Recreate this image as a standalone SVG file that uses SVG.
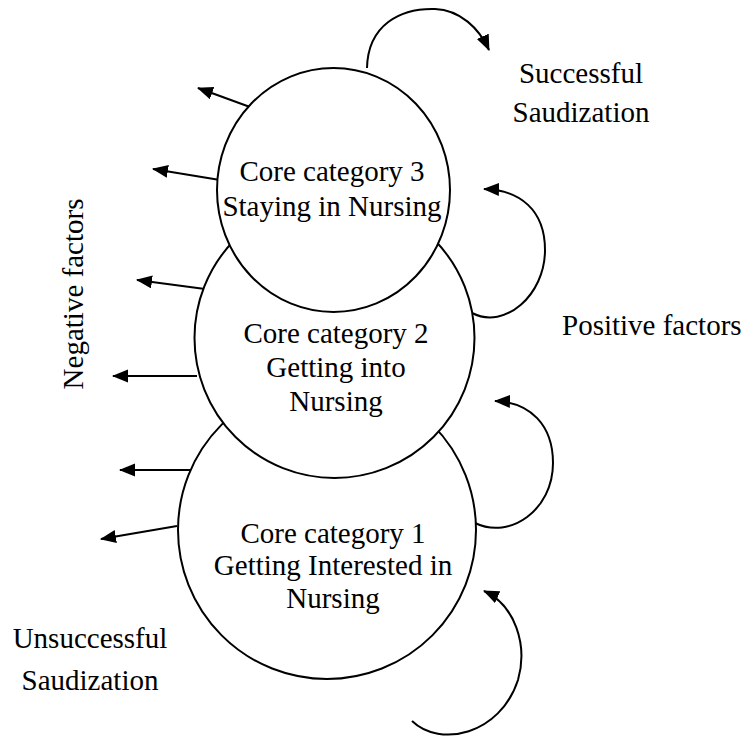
<svg xmlns="http://www.w3.org/2000/svg" width="745" height="738" viewBox="0 0 745 738">
<style>
.c{fill:#fff;stroke:#000;stroke-width:2}
.a{fill:none;stroke:#000;stroke-width:2;marker-end:url(#ah)}
text{font-family:"Liberation Serif","Times New Roman",serif;font-size:29px;fill:#000}
.m{text-anchor:middle}
</style>
<defs>
<marker id="ah" markerUnits="userSpaceOnUse" markerWidth="17" markerHeight="14" refX="15" refY="6.5" orient="auto">
<path d="M0,0 L16,6.5 L0,13 z" fill="#000"/>
</marker>
</defs>
<rect width="745" height="738" fill="#fff"/>
<g id="connectors">
<path class="a" d="M250,107 L198,88"/>
<path class="a" d="M220,180 L153,169"/>
<path class="a" d="M205,289 L137,280"/>
<path class="a" d="M197,376 L113,376"/>
<path class="a" d="M192,470 L120,470"/>
<path class="a" d="M177,526 L101,539"/>
<path class="a" d="M367,68 C368,25 400,8 435,9 C460,10 479,28 489,50"/>
<path class="a" d="M472,313 C505,330 545,295 545,250 C545,210 520,190 484,189"/>
<path class="a" d="M475,523 C510,540 553,510 553,463 C553,425 530,402 495,401"/>
<path class="a" d="M412,721 C440,748 500,735 518,680 C528,645 515,605 484,591"/>
</g>
<g id="core1">
<circle class="c" cx="327" cy="530" r="149"/>
<text class="m" x="333" y="543">Core category 1</text>
<text class="m" x="333" y="575">Getting Interested in</text>
<text class="m" x="333" y="608">Nursing</text>
</g>
<g id="core2">
<circle class="c" cx="334.5" cy="338" r="140"/>
<text class="m" x="336" y="343">Core category 2</text>
<text class="m" x="336" y="377">Getting into</text>
<text class="m" x="336" y="411">Nursing</text>
</g>
<g id="core3">
<ellipse class="c" cx="333.5" cy="190" rx="116.5" ry="122"/>
<text class="m" x="332" y="181">Core category 3</text>
<text class="m" x="332" y="216">Staying in Nursing</text>
</g>
<g id="labels">
<text class="m" x="581" y="83">Successful</text>
<text class="m" x="581" y="122">Saudization</text>
<text x="562" y="335">Positive factors</text>
<text class="m" x="90" y="648">Unsuccessful</text>
<text class="m" x="90" y="690">Saudization</text>
<text class="m" transform="translate(83,294) rotate(-90)">Negative factors</text>
</g>
</svg>
